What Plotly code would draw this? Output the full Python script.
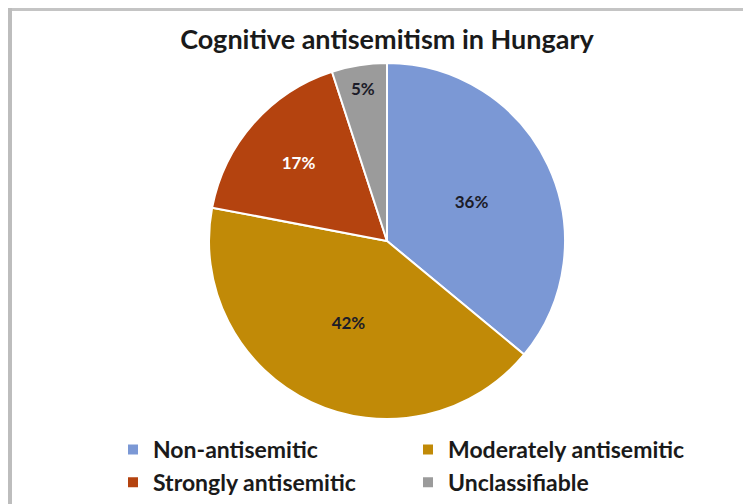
import plotly.graph_objects as go

# Shares of respondents by category
categories = ["Non-antisemitic", "Moderately antisemitic", "Strongly antisemitic", "Unclassifiable"]
shares = [36, 42, 17, 5]
slice_colors = ["#7b98d5", "#c18a07", "#b4430f", "#9b9b9b"]
label_colors = ["#1c1c28", "#1c1c28", "#ffffff", "#1c1c28"]

# the page body adds an 8px margin, so the figure is 8px smaller each way
W, H = 743, 496

fig = go.Figure(
    go.Pie(
        labels=categories,
        values=shares,
        sort=False,
        direction="clockwise",
        rotation=0,
        marker=dict(colors=slice_colors, line=dict(color="white", width=2)),
        texttemplate="%{value}%",
        textposition="inside",
        insidetextorientation="horizontal",
        textfont=dict(family="Lato", size=17, color=label_colors, weight="bold"),
        domain=dict(x=[201 / W, 557 / W], y=[1 - 411 / H, 1 - 55 / H]),
        hoverinfo="label+percent",
    )
)

fig.update_layout(
    width=W,
    height=H,
    margin=dict(l=0, r=0, t=0, b=0),
    paper_bgcolor="white",
    plot_bgcolor="white",
    title=dict(
        text="Cognitive antisemitism in Hungary",
        x=379 / W,
        xanchor="center",
        y=1 - 32 / H,
        yanchor="middle",
        font=dict(family="Lato", size=27, color="#1a1a1a", weight="bold"),
    ),
    legend=dict(
        orientation="h",
        x=105 / W,
        xanchor="left",
        y=1 - 420 / H,
        yanchor="top",
        entrywidth=250,
        entrywidthmode="pixels",
        font=dict(family="Lato", size=23, color="#1a1a1a", weight="bold"),
        itemsizing="constant",
        tracegroupgap=0,
    ),
    shapes=[
        # grey frame edges along top and left
        dict(type="rect", xref="paper", yref="paper", x0=0, x1=1, y0=1 - 3 / H, y1=1,
             fillcolor="#c4c4c4", line=dict(width=0)),
        dict(type="rect", xref="paper", yref="paper", x0=0, x1=4 / W, y0=0, y1=1,
             fillcolor="#bdbdbd", line=dict(width=0)),
    ],
)

fig.write_html("out.html")
